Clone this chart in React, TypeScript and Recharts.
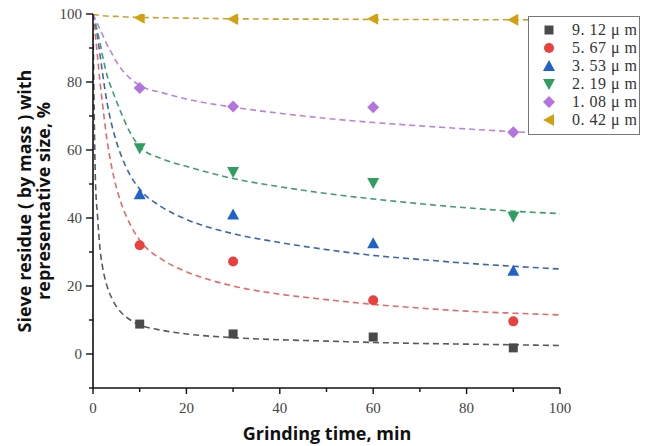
import React from "react";
import { ComposedChart, Line, Scatter, XAxis, YAxis } from "recharts";

// measured grinding times (min)
const times = [10, 30, 60, 90];
// measured sieve residue (%) per representative size
const m912 = [8.8, 5.9, 5.0, 1.8];
const m567 = [32.0, 27.2, 15.8, 9.6];
const m353 = [47.0, 41.0, 32.6, 24.5];
const m219 = [60.5, 53.5, 50.3, 40.4];
const m108 = [78.2, 72.8, 72.6, 65.2];
const m042 = [98.9, 98.5, 98.6, 98.3];

// fitted curves
const fitT = [0, 0.5, 1, 1.5, 2, 3, 4, 5, 6, 8, 10, 15, 20, 30, 40, 50, 60, 70, 80, 90, 100];
const f912 = [100, 52, 40, 31, 26, 20, 16.5, 14, 12.3, 10, 8.6, 6.9, 5.9, 4.8, 4.2, 3.8, 3.4, 3.1, 2.9, 2.7, 2.5];
const f567 = [100, 94, 87, 80, 74, 63, 55, 49, 44.5, 38, 33.5, 27.6, 24.2, 20, 17.6, 16, 14.6, 13.5, 12.6, 12, 11.5];
const f353 = [100, 97, 93, 88, 83, 74, 67.5, 62.5, 58.5, 52.5, 48.5, 43, 39.6, 35.4, 32.8, 30.7, 29, 27.8, 26.7, 25.8, 25];
const f219 = [100, 97.5, 94.5, 91.5, 88, 82, 78, 74.5, 71, 65, 61, 57.3, 55.2, 51.6, 49.2, 47.2, 45.6, 44.2, 43, 42, 41.3];
const f108 = [100, 98.5, 97, 95.5, 94, 91, 88.5, 86, 84, 81, 79, 76.8, 75, 72.6, 70.8, 69.3, 68.1, 67.1, 66.2, 65.4, 64.8];
const f042 = [100, 99.8, 99.7, 99.6, 99.5, 99.4, 99.3, 99.3, 99.2, 99.1, 99, 98.9, 98.8, 98.6, 98.5, 98.5, 98.4, 98.4, 98.3, 98.3, 98.2];

const labels = ["9. 12 μ m", "5. 67 μ m", "3. 53 μ m", "2. 19 μ m", "1. 08 μ m", "0. 42 μ m"];
const xTicks = [0, 10, 20, 30, 40, 50, 60, 70, 80, 90, 100];
const yTicks = [-10, 0, 10, 20, 30, 40, 50, 60, 70, 80, 90, 100];

const mk = (ts: number[], vs: number[]) => ts.map((t, i) => ({ t, v: vs[i] }));

const markerColors = ["#4a4a4a", "#e8413e", "#1f62c8", "#2f9e62", "#b474e0", "#d3a012"];
const lineColors = ["#5a5a5a", "#e36a6a", "#3d66ad", "#3f9d6e", "#bb84da", "#cca22c"];
const shapes = ["square", "circle", "up", "down", "diamond", "left"];

const measured = [m912, m567, m353, m219, m108, m042];
const fits = [f912, f567, f353, f219, f108, f042];

function drawShape(kind: string, cx: number, cy: number, fill: string) {
  switch (kind) {
    case "square":
      return <rect x={cx - 4.5} y={cy - 4.5} width={9} height={9} fill={fill} />;
    case "circle":
      return <circle cx={cx} cy={cy} r={5} fill={fill} />;
    case "up":
      return <polygon points={`${cx},${cy - 6} ${cx + 6},${cy + 5} ${cx - 6},${cy + 5}`} fill={fill} />;
    case "down":
      return <polygon points={`${cx - 6},${cy - 5} ${cx + 6},${cy - 5} ${cx},${cy + 6}`} fill={fill} />;
    case "diamond":
      return <polygon points={`${cx},${cy - 6} ${cx + 6},${cy} ${cx},${cy + 6} ${cx - 6},${cy}`} fill={fill} />;
    default:
      return <polygon points={`${cx - 6},${cy} ${cx + 5},${cy - 6} ${cx + 5},${cy + 6}`} fill={fill} />;
  }
}

const XTick = (props: any) => {
  const { x, y, payload } = props;
  const v = payload.value;
  const major = v % 20 === 0;
  return (
    <g>
      <line x1={x} x2={x} y1={y} y2={y + (major ? 6 : 4)} stroke="#111" strokeWidth={1.4} />
      {major && (
        <text x={x} y={y + 25} textAnchor="middle" fontFamily="Liberation Serif" fontSize={15} fill="#444">
          {v}
        </text>
      )}
    </g>
  );
};

const YTick = (props: any) => {
  const { x, y, payload } = props;
  const v = payload.value;
  const major = v % 20 === 0;
  return (
    <g>
      <line x1={x} x2={x - (major ? 7 : 4)} y1={y} y2={y} stroke="#111" strokeWidth={1.4} />
      {major && (
        <text x={x - 11} y={y + 5} textAnchor="end" fontFamily="Liberation Serif" fontSize={15} fill="#444">
          {v}
        </text>
      )}
    </g>
  );
};

const XTitle = () => (
  <text x={319} y={440} textAnchor="middle" fontFamily="Open Sans" fontWeight={700} fontSize={18} fill="#111">
    Grinding time, min
  </text>
);

const YTitle = () => (
  <g>
    <text transform="translate(23,201) rotate(-90)" textAnchor="middle" fontFamily="Open Sans" fontWeight={700} fontSize={18} fill="#111">
      Sieve residue ( by mass ) with
    </text>
    <text transform="translate(42,201) rotate(-90)" textAnchor="middle" fontFamily="Open Sans" fontWeight={700} fontSize={18} fill="#111">
      representative size, %
    </text>
  </g>
);

const LegendBox = () => (
  <div
    style={{
      width: 112,
      height: 119,
      boxSizing: "border-box",
      border: "1px solid #777",
      background: "#fff",
      paddingTop: 4,
    }}
  >
    {labels.map((lab, i) => (
      <div key={lab} style={{ display: "flex", alignItems: "center", height: 18 }}>
        <svg width={43} height={18} style={{ display: "block", flex: "none" }}>
          {drawShape(shapes[i], 20, 9, markerColors[i])}
        </svg>
        <span
          style={{
            fontFamily: "Liberation Serif",
            fontSize: 16,
            letterSpacing: 0.5,
            color: "#333",
            lineHeight: "18px",
            whiteSpace: "pre",
          }}
        >
          {lab}
        </span>
      </div>
    ))}
  </div>
);

export default function App() {
  return (
    <div style={{ position: "relative", width: 646, height: 446, marginTop: -8 }}>
      <ComposedChart width={646} height={446} margin={{ top: 14, right: 94, left: 0, bottom: 0 }}>
        <XAxis
          dataKey="t"
          type="number"
          domain={[0, 100]}
          ticks={xTicks}
          interval={0}
          tick={<XTick />}
          tickLine={false}
          tickSize={0}
          tickMargin={0}
          height={58}
          axisLine={{ stroke: "#111", strokeWidth: 1.6 }}
          allowDataOverflow
          label={<XTitle />}
        />
        <YAxis
          dataKey="v"
          type="number"
          domain={[-10, 100]}
          ticks={yTicks}
          interval={0}
          tick={<YTick />}
          tickLine={false}
          tickSize={0}
          tickMargin={0}
          width={85}
          axisLine={{ stroke: "#111", strokeWidth: 1.6 }}
          allowDataOverflow
          label={<YTitle />}
        />
        {fits.map((f, i) => (
          <Line
            key={"fit" + i}
            data={mk(fitT, f)}
            dataKey="v"
            type="monotone"
            stroke={lineColors[i]}
            strokeWidth={1.6}
            strokeDasharray="6 4"
            dot={false}
            activeDot={false}
            legendType="none"
            isAnimationActive={false}
          />
        ))}
        {measured.map((m, i) => (
          <Scatter
            key={"pts" + i}
            name={labels[i]}
            data={mk(times, m)}
            dataKey="v"
            fill={markerColors[i]}
            shape={(p: any) => drawShape(shapes[i], p.cx, p.cy, markerColors[i])}
            isAnimationActive={false}
          />
        ))}
      </ComposedChart>
      <div style={{ position: "absolute", left: 520, top: 16 }}>
        <LegendBox />
      </div>
    </div>
  );
}
